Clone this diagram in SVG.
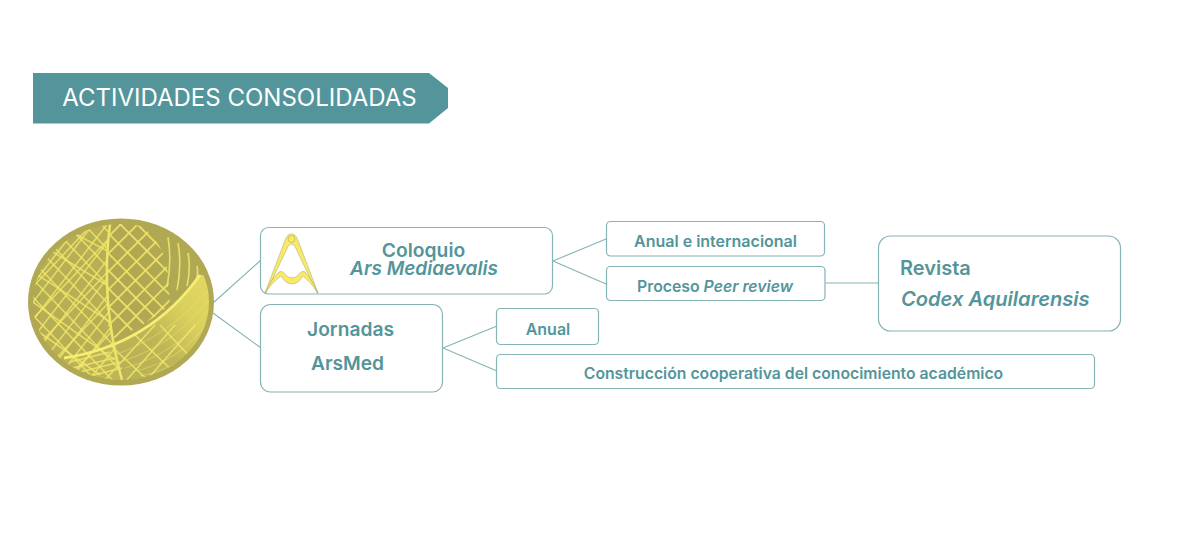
<svg xmlns="http://www.w3.org/2000/svg" width="1200" height="540" viewBox="0 0 1200 540">
<style>
.box{fill:#fff;stroke:#85b3b6;stroke-width:1.2}
.con{fill:none;stroke:#85b3b6;stroke-width:1.1}
text{font-family:Inter,"Noto Sans","Liberation Sans",sans-serif;fill:#53959a;font-weight:600;text-anchor:middle}
.net{fill:none;stroke:#f3ea6c;stroke-width:1.6;opacity:.8}
.mid{fill:none;stroke:#f0e66a;stroke-width:1.8;opacity:.9}
.thin{fill:none;stroke:#f0e76a;stroke-width:1;opacity:.5}
.logo{fill:#f8ea68;stroke:#a09b5c;stroke-width:.45}
</style>
<defs>
<clipPath id="oval"><ellipse cx="121" cy="302" rx="88" ry="78"/></clipPath>
<clipPath id="leftpart"><path d="M110 222Q100 300 122 382L60 382L20 300V222Z"/></clipPath>
<clipPath id="midpart"><path d="M110 224L135 222Q165 240 168 275L170 305Q140 330 110 340Q102 290 110 224Z"/></clipPath>
<clipPath id="lowpart"><path d="M64 358Q150 345 200 275L212 275V345L170 382H70Z"/></clipPath>
<linearGradient id="glow" x1="0" y1=".8" x2="1" y2=".2"><stop offset="0" stop-color="#efe569" stop-opacity=".08"/><stop offset=".55" stop-color="#e6dc63" stop-opacity=".25"/><stop offset=".8" stop-color="#e0d660" stop-opacity=".85"/><stop offset="1" stop-color="#e0d660"/></linearGradient>
<filter id="soft" x="-5%" y="-5%" width="110%" height="110%"><feGaussianBlur stdDeviation=".45"/></filter>
</defs>
<rect width="1200" height="540" fill="#fff"/>
<g id="title">
<polygon points="33,73 429,73 448,88 448,108 429,123.500 33,123.500" fill="#53959a"/>
<text x="239.500" y="106" style="fill:#fff;font-weight:400;font-size:24px">ACTIVIDADES CONSOLIDADAS</text>
</g>
<g id="connectors">
<path class="con" d="M213 303L261 260M213 313L261 348M553 261L606 239M553 261L606 284M825 283H878M443 348L497 326M443 348L497 371"/>
</g>
<g id="emblem">
<ellipse cx="121" cy="302" rx="93" ry="83.500" fill="#b0a853"/>
<g clip-path="url(#oval)" filter="url(#soft)">
<g clip-path="url(#leftpart)">
<path class="net" d="M30 270L115 160M30 288L115 178M30 306L115 196M30 324L115 214M30 342L115 232M30 360L115 250M30 378L115 268M30 396L115 286M30 414L115 304M30 432L115 322M30 450L122 340"/>
<path class="net" d="M30 258L115 170M30 290L115 200M30 322L115 232M30 354L115 264M30 386L115 296M30 418L115 328"/>
<path class="net" d="M30 150L120 244M30 168L120 262M30 186L120 280M30 204L120 298M30 222L120 316M30 240L120 334M30 258L120 352M30 276L120 370M30 294L120 388M30 312L120 406"/>
<path class="net" d="M30 210L115 255M30 238L115 290M30 270L115 325M30 300L115 360M36 330L100 375"/>
<path fill="#e9df65" opacity=".12" d="M110 224Q100 300 122 380H40V230Z"/>
</g>
<g clip-path="url(#midpart)">
<path class="mid" d="M100 245L135 210M100 262L150 212M100 280L165 215M100 298L180 218M100 316L185 231M100 334L185 249M110 342L185 267M125 345L185 285"/>
<path class="mid" d="M100 225L185 310M118 222L185 289M135 222L185 272M150 220L185 255M100 245L180 325M100 262L165 327M100 280L150 330M100 298L140 338"/>
</g>
<path fill="none" stroke="#efe569" stroke-width="1.600" opacity=".9" d="M168 237Q172 262 167 287M178 243Q182 265 177 290M188 253Q191 268 187 286M197 266Q199 275 195 284"/>
<g clip-path="url(#lowpart)">
<path d="M64 358Q150 345 200 275L212 275V345L170 382H70Z" fill="url(#glow)"/>
<path class="thin" d="M115 355Q170 335 208 290M120 362Q175 345 208 300M125 368Q180 352 208 310M132 372Q185 360 208 320M140 376Q190 366 208 330M150 378Q190 372 208 340"/>
<path class="net" d="M105 380L155 325M125 382L175 325M145 382L195 325M165 380L205 335"/>
<path class="net" d="M110 345L150 382M135 335L180 378M160 325L195 362"/>
<path class="net" d="M70 362L110 352M72 368L115 358M80 372L120 362M90 376L122 368"/>
</g>
<path fill="none" stroke="#f6ed72" stroke-width="3" d="M64 358Q150 345 200 275"/>
<path fill="none" stroke="#efe569" stroke-width="2.500" d="M110 224Q100 300 122 380"/>
</g>
</g>
<g id="coloquio">
<rect class="box" x="260.500" y="227.500" width="292" height="66.500" rx="8"/>
<path class="logo" d="M291.500 234C287 234 286 238 284 243L265 293L265.800 293L288.500 245.500Q291.500 243 294.500 245.500L317.200 293L318 293L299 243C297 238 296 234 291.500 234Z"/>
<path class="logo" d="M265 293Q272 278 279 272Q282 270 285 274Q288 278 292 278Q296 278 299 274Q302 270 305 272Q311 278 318 293Q311 282 303 276Q298 284 292 284Q286 284 281 276Q272 282 265 293Z"/>
<circle cx="291.500" cy="239" r="3.500" fill="#f8ea68" stroke="#b5ad55" stroke-width=".6"/>
<text x="423.500" y="257" style="font-size:19.300px">Coloquio</text>
<text x="424" y="275" style="font-size:19px;font-style:italic">Ars Mediaevalis</text>
</g>
<g id="jornadas">
<rect class="box" x="260.500" y="304.500" width="182" height="87.500" rx="10"/>
<text x="350.500" y="336" style="font-size:19.200px">Jornadas</text>
<text x="347.500" y="370" style="font-size:19.200px">ArsMed</text>
</g>
<g id="anual-internacional">
<rect class="box" x="606.500" y="221.500" width="218" height="34.500" rx="4"/>
<text x="715.500" y="246.500" style="font-size:16px">Anual e internacional</text>
</g>
<g id="peer-review">
<rect class="box" x="606.500" y="266.500" width="218.500" height="34" rx="4"/>
<text x="715" y="291.500" style="font-size:15.800px">Proceso <tspan font-style="italic">Peer review</tspan></text>
</g>
<g id="revista">
<rect class="box" x="878.500" y="236" width="242" height="95" rx="12"/>
<text x="900" y="274.500" style="font-size:20px;text-anchor:start">Revista</text>
<text x="901" y="306" style="font-size:20.100px;font-style:italic;text-anchor:start">Codex Aquilarensis</text>
</g>
<g id="anual">
<rect class="box" x="496.500" y="308.500" width="102" height="36" rx="4"/>
<text x="548" y="334.500" style="font-size:16px">Anual</text>
</g>
<g id="construccion">
<rect class="box" x="496.500" y="354.500" width="598" height="34" rx="4"/>
<text x="793.500" y="378.500" style="font-size:15.750px">Construcción cooperativa del conocimiento académico</text>
</g>
</svg>
